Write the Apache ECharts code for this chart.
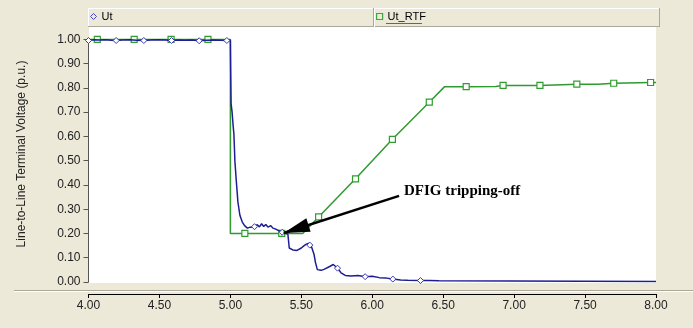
<!DOCTYPE html>
<html>
<head>
<meta charset="utf-8">
<script src="https://cdn.jsdelivr.net/npm/echarts@6/dist/echarts.min.js"></script>
<style>
html,body{margin:0;padding:0;background:#ECE9D8;}
#chart{width:693px;height:328px;}
</style>
</head>
<body>
<div id="chart"></div>
<script>
// ---- data ----
const seriesNames = ['Ut', 'Ut_RTF'];
const xTicks = [4.0, 4.5, 5.0, 5.5, 6.0, 6.5, 7.0, 7.5, 8.0];
const yTicks = [0.0, 0.1, 0.2, 0.3, 0.4, 0.5, 0.6, 0.7, 0.8, 0.9, 1.0];

const utTime = [4.000,4.040,4.080,4.120,4.160,4.195,4.240,4.290,4.340,4.390,4.440,4.490,4.540,4.585,4.630,4.680,4.730,4.780,4.830,4.880,4.930,4.975,5.000,
  5.002,5.005,5.012,5.020,5.025,5.032,5.042,5.053,5.067,5.084,5.100,5.120,5.140,5.170,5.190,5.205,5.220,5.235,5.250,5.265,5.285,5.300,5.320,5.340,5.365,5.390,5.405,
  5.410,5.415,5.440,5.470,5.500,5.520,5.535,5.545,5.555,5.560,5.570,5.590,5.600,5.613,5.640,5.660,5.700,5.725,5.740,5.755,5.780,5.810,5.850,5.900,5.950,6.000,
  6.050,6.100,6.145,6.200,6.250,6.340,6.400,6.470,6.480,8.000];
const utVolt = [0.995,0.998,0.997,0.998,0.996,0.995,0.997,0.998,0.996,0.995,0.997,0.998,0.997,0.995,0.997,0.996,0.997,0.994,0.996,0.997,0.996,0.995,0.996,
  0.885,0.735,0.700,0.640,0.608,0.497,0.414,0.330,0.275,0.247,0.232,0.222,0.226,0.228,0.236,0.227,0.240,0.229,0.237,0.226,0.232,0.222,0.218,0.212,0.205,0.200,0.198,
  0.170,0.140,0.132,0.130,0.140,0.150,0.156,0.150,0.160,0.152,0.148,0.113,0.080,0.051,0.048,0.052,0.064,0.072,0.065,0.057,0.038,0.027,0.025,0.027,0.022,0.024,
  0.018,0.016,0.012,0.008,0.007,0.006,0.006,0.005,0.002,0.002];
const utMarkers = [4.000,4.195,4.390,4.585,4.780,4.975,5.170,5.365,5.560,5.755,5.950,6.145,6.340];

const rtfTime = [4.000,4.062,4.322,4.582,4.842,5.000,5.000,5.102,5.362,5.510,5.622,5.882,6.142,6.402,6.510,6.662,6.870,6.875,6.922,7.182,7.230,7.235,7.442,7.590,7.595,7.702,7.962,8.000];
const rtfVolt = [1.000,1.000,1.000,1.000,1.000,1.000,0.200,0.200,0.200,0.200,0.268,0.425,0.588,0.741,0.805,0.805,0.806,0.810,0.810,0.810,0.811,0.814,0.815,0.815,0.819,0.819,0.822,0.822];
const rtfMarkers = [4.062,4.322,4.582,4.842,5.102,5.362,5.622,5.882,6.142,6.402,6.662,6.922,7.182,7.442,7.702,7.962];

const yAxisTitle = 'Line-to-Line Terminal Voltage (p.u.)';
const annotationText = 'DFIG tripping-off';
const arrowFrom = [6.189, 0.355];
const arrowTo = [5.376, 0.202];
const textAt = [6.224, 0.374];

// ---- build ----
const utData = utTime.map((t, i) => [t, utVolt[i]]);
const rtfData = rtfTime.map((t, i) => [t, rtfVolt[i]]);
const BLUE = '#1d1d94';
const GREEN = '#2f9a2f';
const BG = '#ECE9D8';
const EDGE = '#ACA899';

const chart = echarts.init(document.getElementById('chart'), null, {renderer: 'canvas'});
chart.setOption({
  animation: false,
  backgroundColor: BG,
  textStyle: {fontFamily: 'Liberation Sans, Arial, sans-serif'},
  grid: {left: 88.5, right: 37, top: 39.3, bottom: 46, containLabel: false},
  legend: [
    {left: 90, top: 11, itemWidth: 6, itemHeight: 6, itemGap: 4, padding: 0,
     textStyle: {fontSize: 11, color: '#000', padding: [0, 0, 0, 0]},
     selectedMode: false,
     data: [{name: 'Ut', icon: 'diamond', itemStyle: {color: 'transparent', borderColor: '#4747c8', borderWidth: 1}}]},
    {left: 376, top: 11, itemWidth: 6, itemHeight: 6, itemGap: 4, padding: 0,
     textStyle: {fontSize: 11, color: '#000', padding: [0, 0, 0, 0]},
     selectedMode: false,
     data: [{name: 'Ut_RTF', icon: 'rect', itemStyle: {color: 'transparent', borderColor: '#3aa83a', borderWidth: 1.2}}]}
  ],
  xAxis: {
    type: 'value', min: 4, max: 8, interval: 0.5, offset: 12,
    axisLine: {show: true, onZero: false, lineStyle: {color: '#000', width: 1}},
    axisTick: {show: true, inside: false, length: 4, lineStyle: {color: '#000'}},
    axisLabel: {fontSize: 12, color: '#222', margin: 6, formatter: v => v.toFixed(2)},
    splitLine: {show: false}
  },
  yAxis: {
    type: 'value', min: 0, max: 1, interval: 0.1,
    axisLine: {show: true, lineStyle: {color: '#555', width: 1}},
    axisTick: {show: true, inside: false, length: 5, lineStyle: {color: '#555'}},
    axisLabel: {fontSize: 12, color: '#222', margin: 8, formatter: v => v.toFixed(2)},
    splitLine: {show: false}
  },
  graphic: [
    {type: 'rect', z: -10, shape: {x: 89, y: 27, width: 567, height: 256}, style: {fill: '#fff'}},
    {type: 'rect', z: -10, shape: {x: 88, y: 8, width: 572, height: 19}, style: {fill: BG}},
    {type: 'line', z: -5, shape: {x1: 88, y1: 8.5, x2: 660, y2: 8.5}, style: {stroke: '#fff', lineWidth: 1}},
    {type: 'line', z: -5, shape: {x1: 88.5, y1: 8, x2: 88.5, y2: 27}, style: {stroke: '#fff', lineWidth: 1}},
    {type: 'line', z: -5, shape: {x1: 88, y1: 26.5, x2: 660, y2: 26.5}, style: {stroke: EDGE, lineWidth: 1}},
    {type: 'line', z: -5, shape: {x1: 659.5, y1: 8, x2: 659.5, y2: 27}, style: {stroke: EDGE, lineWidth: 1}},
    {type: 'line', z: -5, shape: {x1: 373.5, y1: 8, x2: 373.5, y2: 27}, style: {stroke: EDGE, lineWidth: 1}},
    {type: 'line', z: -5, shape: {x1: 374.5, y1: 8, x2: 374.5, y2: 27}, style: {stroke: '#fff', lineWidth: 1}},
    {type: 'line', z: -5, shape: {x1: 386, y1: 23.5, x2: 422, y2: 23.5}, style: {stroke: '#666', lineWidth: 1}},
    {type: 'line', z: -5, shape: {x1: 14, y1: 290.5, x2: 693, y2: 290.5}, style: {stroke: EDGE, lineWidth: 1}},
    {type: 'line', z: -5, shape: {x1: 14, y1: 291.5, x2: 693, y2: 291.5}, style: {stroke: '#fff', lineWidth: 1}},
    {type: 'text', x: 22, y: 154, rotation: Math.PI / 2,
     style: {text: yAxisTitle, fontSize: 12, fill: '#222', fontFamily: 'Liberation Sans, Arial, sans-serif', align: 'center', verticalAlign: 'middle'}}
  ],
  series: [
    {
      name: 'Ut_RTF', type: 'line', data: rtfData, z: 2,
      lineStyle: {color: GREEN, width: 1.5},
      itemStyle: {color: '#fff', borderColor: '#2e9e2e', borderWidth: 1.2},
      symbol: (v) => rtfMarkers.includes(v[0]) ? 'rect' : 'none',
      symbolSize: 6, showAllSymbol: true,
      markLine: {
        silent: true, animation: false,
        symbol: ['none', 'triangle'], symbolSize: [14, 26], symbolOffset: [0, [0, '50%']],
        lineStyle: {color: '#000', width: 2.5, type: 'solid'},
        label: {show: false},
        data: [[{coord: arrowFrom}, {coord: arrowTo}]]
      },
      markPoint: {
        silent: true, symbol: 'circle', symbolSize: 0,
        label: {show: true, position: 'right', distance: 0, formatter: annotationText,
          fontFamily: 'Liberation Serif, Times New Roman, serif', fontWeight: 'bold', fontSize: 15, color: '#000'},
        data: [{coord: textAt}]
      }
    },
    {
      name: 'Ut', type: 'line', data: utData, z: 3,
      lineStyle: {color: BLUE, width: 1.5},
      itemStyle: {color: '#fff', borderColor: '#3a3ab8', borderWidth: 1},
      symbol: (v) => utMarkers.includes(v[0]) ? 'diamond' : 'none',
      symbolSize: 6, showAllSymbol: true
    }
  ]
});
</script>
</body>
</html>
